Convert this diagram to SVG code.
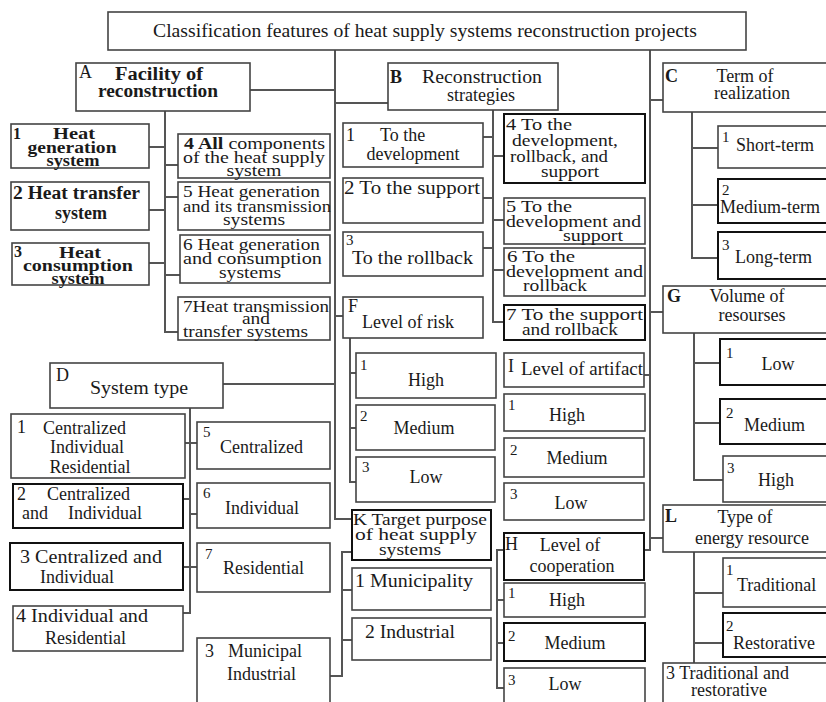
<svg xmlns="http://www.w3.org/2000/svg" width="826" height="702" viewBox="0 0 826 702">
<style>
.bx{fill:#fff;stroke:#444;stroke-width:1.6}
.dk{fill:#fff;stroke:#111;stroke-width:2}
.ln{fill:none;stroke:#555;stroke-width:2}
text{font-family:"Liberation Serif","Times New Roman",serif;font-size:18px;fill:#1a1a1a}
.b{font-weight:bold}
.n{font-size:15px}
.s{font-size:16px}
.m{text-anchor:middle}
</style>
<rect width="826" height="702" fill="#fff"/>
<g id="connectors">
<path class="ln" d="M335,50V519H352M250,90H335M223,384H335M335,316H343M335,103H388"/>
<path class="ln" d="M650,50V550H644M650,100H663M650,312H663M650,538H663M644,375H650"/>
<path class="ln" d="M165,111V332H178M149,147H165M149,210H165M149,263H165M165,165H178M165,197H178M165,275H180"/>
<path class="ln" d="M493,110V322H504M483,137H493M483,198H493M483,248H493M493,156H504M493,220H504M493,270H504"/>
<path class="ln" d="M350,338V482H356M350,373H356M350,428H356"/>
<path class="ln" d="M692,112V258H718M692,148H718M692,205H718"/>
<path class="ln" d="M694,333V480H723M694,363H720M694,423H720"/>
<path class="ln" d="M694,552V663M694,593H723M694,643H723"/>
<path class="ln" d="M190,408V613H183M185,443H197M183,499H190M183,567H197M190,514H197"/>
<path class="ln" d="M352,552H342V676H330M342,590H352M342,640H352"/>
<path class="ln" d="M504,550H497V688H504M497,600H504M497,643H504"/>
</g>
<g id="title"><rect class="bx" x="108" y="12" width="638" height="38"/><text x="153" y="37" font-size="19" textLength="544" lengthAdjust="spacingAndGlyphs">Classification features of heat supply systems reconstruction projects</text></g>
<g id="nodeA"><rect class="bx" x="76" y="63" width="174" height="48"/><text x="79" y="78">A</text><text class="b" x="115" y="80" textLength="88" lengthAdjust="spacingAndGlyphs">Facility of</text><text class="b" x="98" y="97" textLength="120" lengthAdjust="spacingAndGlyphs">reconstruction</text></g>
<g id="nodeA1"><rect class="bx" x="11" y="124" width="138" height="44"/><text class="b s" x="13" y="139">1</text><text class="b s m" x="74" y="139" textLength="42" lengthAdjust="spacingAndGlyphs">Heat</text><text class="b s m" x="72" y="153" textLength="89" lengthAdjust="spacingAndGlyphs">generation</text><text class="b s m" x="73" y="166" textLength="53" lengthAdjust="spacingAndGlyphs">system</text></g>
<g id="nodeA2"><rect class="bx" x="11" y="182" width="138" height="48"/><text class="b" x="13" y="199" textLength="127" lengthAdjust="spacingAndGlyphs">2 Heat transfer</text><text class="b m" x="81" y="219">system</text></g>
<g id="nodeA3"><rect class="bx" x="12" y="243" width="137" height="42"/><text class="b s" x="14" y="257">3</text><text class="b s m" x="80" y="258" textLength="42" lengthAdjust="spacingAndGlyphs">Heat</text><text class="b s m" x="78" y="271" textLength="110" lengthAdjust="spacingAndGlyphs">consumption</text><text class="b s m" x="78" y="284" textLength="53" lengthAdjust="spacingAndGlyphs">system</text></g>
<g id="nodeA4"><rect class="bx" x="178" y="134" width="152" height="44"/><text class="s" x="184" y="149" textLength="141" lengthAdjust="spacingAndGlyphs"><tspan class="b">4 All</tspan> components</text><text class="s" x="183" y="163" textLength="142" lengthAdjust="spacingAndGlyphs">of the heat supply</text><text class="s m" x="254" y="176" textLength="55" lengthAdjust="spacingAndGlyphs">system</text></g>
<g id="nodeA5"><rect class="bx" x="178" y="182" width="152" height="48"/><text class="s" x="183" y="197" textLength="137" lengthAdjust="spacingAndGlyphs">5 Heat generation</text><text class="s" x="183" y="212" textLength="148" lengthAdjust="spacingAndGlyphs">and its transmission</text><text class="s m" x="254" y="225" textLength="62" lengthAdjust="spacingAndGlyphs">systems</text></g>
<g id="nodeA6"><rect class="bx" x="180" y="235" width="150" height="48"/><text class="s" x="183" y="250" textLength="137" lengthAdjust="spacingAndGlyphs">6 Heat  generation</text><text class="s" x="183" y="264" textLength="139" lengthAdjust="spacingAndGlyphs">and   consumption</text><text class="s m" x="250" y="278" textLength="62" lengthAdjust="spacingAndGlyphs">systems</text></g>
<g id="nodeA7"><rect class="bx" x="178" y="297" width="152" height="43"/><text class="s" x="183" y="312" textLength="146" lengthAdjust="spacingAndGlyphs">7Heat transmission</text><text class="s m" x="256" y="324" textLength="28" lengthAdjust="spacingAndGlyphs">and</text><text class="s" x="183" y="337" textLength="125" lengthAdjust="spacingAndGlyphs">transfer systems</text></g>
<g id="nodeB"><rect class="bx" x="388" y="63" width="170" height="47"/><text class="b" x="390" y="83">B</text><text x="422" y="83" textLength="120" lengthAdjust="spacingAndGlyphs">Reconstruction</text><text class="m" x="481" y="101">strategies</text></g>
<g id="nodeB1"><rect class="bx" x="343" y="123" width="140" height="44"/><text x="346" y="141">1</text><text x="380" y="141">To the</text><text class="m" x="413" y="160">development</text></g>
<g id="nodeB2"><rect class="bx" x="343" y="178" width="140" height="45"/><text x="344" y="194" textLength="136" lengthAdjust="spacingAndGlyphs">2 To the support</text></g>
<g id="nodeB3"><rect class="bx" x="343" y="232" width="140" height="44"/><text class="n" x="346" y="245">3</text><text x="352" y="264" textLength="121" lengthAdjust="spacingAndGlyphs">To the rollback</text></g>
<g id="nodeF"><rect class="bx" x="343" y="297" width="140" height="41"/><text x="348" y="312">F</text><text x="362" y="328">Level of risk</text></g>
<g id="nodeB4"><rect class="dk" x="504" y="114" width="141" height="69"/><text class="s" x="506" y="130" textLength="66" lengthAdjust="spacingAndGlyphs">4 To the</text><text class="s" x="512" y="146" textLength="106" lengthAdjust="spacingAndGlyphs">development,</text><text class="s" x="510" y="162" textLength="98" lengthAdjust="spacingAndGlyphs">rollback, and</text><text class="s m" x="570" y="177" textLength="58" lengthAdjust="spacingAndGlyphs">support</text></g>
<g id="nodeB5"><rect class="bx" x="504" y="198" width="141" height="46"/><text class="s" x="506" y="212" textLength="66" lengthAdjust="spacingAndGlyphs">5 To the</text><text class="s" x="506" y="227" textLength="135" lengthAdjust="spacingAndGlyphs">development and</text><text class="s m" x="593" y="241" textLength="60" lengthAdjust="spacingAndGlyphs">support</text></g>
<g id="nodeB6"><rect class="bx" x="504" y="248" width="141" height="48"/><text class="s" x="507" y="262" textLength="68" lengthAdjust="spacingAndGlyphs">6  To the</text><text class="s" x="506" y="277" textLength="137" lengthAdjust="spacingAndGlyphs">development and</text><text class="s m" x="555" y="291" textLength="64" lengthAdjust="spacingAndGlyphs">rollback</text></g>
<g id="nodeB7"><rect class="dk" x="504" y="305" width="141" height="35"/><text class="s" x="506" y="320" textLength="137" lengthAdjust="spacingAndGlyphs">7 To the support</text><text class="s m" x="570" y="335" textLength="96" lengthAdjust="spacingAndGlyphs">and rollback</text></g>
<g id="nodeC"><rect class="bx" x="663" y="63" width="170" height="49"/><text class="b" x="665" y="82">C</text><text class="m" x="745" y="82">Term of</text><text class="m" x="752" y="99">realization</text></g>
<g id="nodeC1"><rect class="bx" x="718" y="126" width="115" height="42"/><text class="n" x="722" y="142">1</text><text x="736" y="151">Short-term</text></g>
<g id="nodeC2"><rect class="dk" x="718" y="179" width="115" height="44"/><text class="n" x="722" y="195">2</text><text x="720" y="213">Medium-term</text></g>
<g id="nodeC3"><rect class="dk" x="718" y="232" width="115" height="47"/><text class="n" x="722" y="250">3</text><text x="735" y="263">Long-term</text></g>
<g id="nodeG"><rect class="bx" x="663" y="286" width="170" height="47"/><text class="b" x="667" y="302">G</text><text class="m" x="747" y="302">Volume of</text><text class="m" x="752" y="321">resourses</text></g>
<g id="nodeG1"><rect class="dk" x="720" y="339" width="113" height="46"/><text class="n" x="726" y="358">1</text><text class="m" x="778" y="370">Low</text></g>
<g id="nodeG2"><rect class="dk" x="720" y="399" width="113" height="45"/><text class="n" x="726" y="418">2</text><text x="744" y="431">Medium</text></g>
<g id="nodeG3"><rect class="bx" x="723" y="456" width="110" height="46"/><text class="n" x="727" y="473">3</text><text class="m" x="776" y="486">High</text></g>
<g id="nodeL"><rect class="bx" x="663" y="505" width="170" height="47"/><text class="b" x="665" y="522">L</text><text class="m" x="745" y="523">Type of</text><text class="m" x="752" y="544">energy resource</text></g>
<g id="nodeL1"><rect class="bx" x="723" y="558" width="110" height="49"/><text class="n" x="726" y="575">1</text><text x="737" y="591">Traditional</text></g>
<g id="nodeL2"><rect class="dk" x="723" y="613" width="110" height="44"/><text class="n" x="726" y="631">2</text><text x="733" y="649">Restorative</text></g>
<g id="nodeL3"><rect class="bx" x="663" y="663" width="170" height="45"/><text x="666" y="679">3  Traditional and</text><text x="691" y="696">restorative</text></g>
<g id="nodeD"><rect class="bx" x="50" y="363" width="173" height="45"/><text x="56" y="381">D</text><text x="90" y="394" textLength="98" lengthAdjust="spacingAndGlyphs">System type</text></g>
<g id="nodeD1"><rect class="bx" x="11" y="414" width="174" height="64"/><text x="17" y="433">1</text><text x="43" y="434">Centralized</text><text class="m" x="87" y="453">Individual</text><text class="m" x="90" y="473">Residential</text></g>
<g id="nodeD2"><rect class="dk" x="13" y="484" width="170" height="44"/><text x="17" y="500">2</text><text x="47" y="500">Centralized</text><text x="22" y="519">and</text><text x="68" y="519">Individual</text></g>
<g id="nodeD3"><rect class="dk" x="10" y="543" width="173" height="47"/><text x="20" y="563" textLength="142" lengthAdjust="spacingAndGlyphs">3 Centralized  and</text><text x="40" y="583">Individual</text></g>
<g id="nodeD4"><rect class="bx" x="13" y="606" width="170" height="45"/><text x="16" y="622" textLength="132" lengthAdjust="spacingAndGlyphs">4 Individual  and</text><text x="45" y="644">Residential</text></g>
<g id="nodeD5"><rect class="bx" x="197" y="422" width="133" height="47"/><text class="n" x="203" y="437">5</text><text x="220" y="453">Centralized</text></g>
<g id="nodeD6"><rect class="bx" x="197" y="483" width="133" height="45"/><text class="n" x="203" y="498">6</text><text x="225" y="514">Individual</text></g>
<g id="nodeD7"><rect class="bx" x="197" y="543" width="133" height="49"/><text class="n" x="205" y="559">7</text><text x="223" y="574">Residential</text></g>
<g id="nodeD8"><rect class="bx" x="197" y="638" width="133" height="70"/><text x="205" y="657">3</text><text x="228" y="657">Municipal</text><text x="227" y="680">Industrial</text></g>
<g id="nodeF1"><rect class="bx" x="356" y="353" width="140" height="45"/><text class="n" x="360" y="370">1</text><text class="m" x="426" y="386">High</text></g>
<g id="nodeF2"><rect class="bx" x="356" y="405" width="139" height="45"/><text class="n" x="360" y="421">2</text><text class="m" x="424" y="434">Medium</text></g>
<g id="nodeF3"><rect class="bx" x="356" y="457" width="139" height="45"/><text class="n" x="362" y="472">3</text><text class="m" x="426" y="483">Low</text></g>
<g id="nodeI"><rect class="bx" x="504" y="353" width="140" height="34"/><text x="508" y="372">I</text><text x="521" y="375" textLength="122" lengthAdjust="spacingAndGlyphs">Level of artifact</text></g>
<g id="nodeI1"><rect class="bx" x="504" y="394" width="141" height="37"/><text class="n" x="508" y="410">1</text><text class="m" x="567" y="421">High</text></g>
<g id="nodeI2"><rect class="bx" x="504" y="438" width="140" height="39"/><text class="n" x="510" y="455">2</text><text class="m" x="577" y="464">Medium</text></g>
<g id="nodeI3"><rect class="bx" x="504" y="483" width="140" height="37"/><text class="n" x="510" y="499">3</text><text class="m" x="571" y="509">Low</text></g>
<g id="nodeK"><rect class="dk" x="352" y="510" width="139" height="50"/><text class="s" x="353" y="525" textLength="134" lengthAdjust="spacingAndGlyphs">K Target purpose</text><text class="s" x="355" y="540" textLength="122" lengthAdjust="spacingAndGlyphs">of heat   supply</text><text class="s m" x="410" y="555" textLength="62" lengthAdjust="spacingAndGlyphs">systems</text></g>
<g id="nodeK1"><rect class="bx" x="352" y="568" width="139" height="42"/><text x="355" y="587" textLength="118" lengthAdjust="spacingAndGlyphs">1 Municipality</text></g>
<g id="nodeK2"><rect class="bx" x="352" y="618" width="139" height="42"/><text x="365" y="638" textLength="90" lengthAdjust="spacingAndGlyphs">2 Industrial</text></g>
<g id="nodeH"><rect class="dk" x="504" y="533" width="140" height="47"/><text x="505" y="550">H</text><text class="m" x="570" y="551">Level of</text><text class="m" x="572" y="572">cooperation</text></g>
<g id="nodeH1"><rect class="bx" x="504" y="583" width="141" height="34"/><text class="n" x="508" y="598">1</text><text class="m" x="567" y="606">High</text></g>
<g id="nodeH2"><rect class="dk" x="504" y="623" width="141" height="38"/><text class="n" x="508" y="641">2</text><text class="m" x="575" y="649">Medium</text></g>
<g id="nodeH3"><rect class="bx" x="504" y="668" width="141" height="40"/><text class="n" x="508" y="685">3</text><text class="m" x="565" y="690">Low</text></g>
</svg>
